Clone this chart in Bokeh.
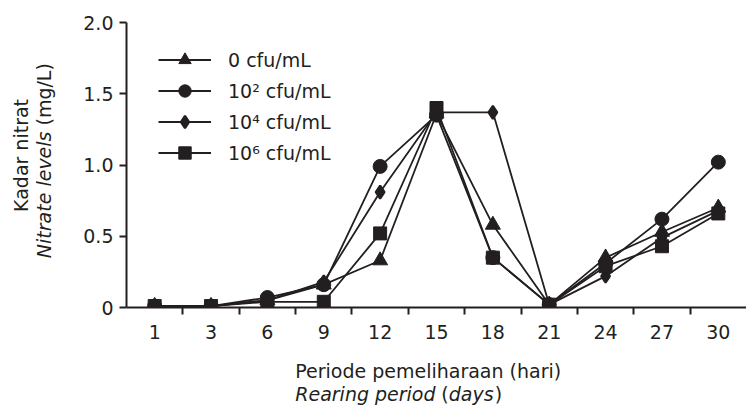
import math
from bokeh.plotting import figure
from bokeh.models import (Range1d, FixedTicker, CustomJSTickFormatter, Label,
                          Legend, LegendItem)
from bokeh.embed import file_html
from bokeh.resources import INLINE

# ---- data ----
days = [1, 3, 6, 9, 12, 15, 18, 21, 24, 27, 30]
series_names = ["0 cfu/mL", "10\u00b2 cfu/mL", "10\u2074 cfu/mL", "10\u2076 cfu/mL"]
nitrate_0 = [0.01, 0.01, 0.05, 0.16, 0.33, 1.36, 0.58, 0.02, 0.35, 0.53, 0.70]
nitrate_2 = [0.01, 0.01, 0.07, 0.16, 0.99, 1.35, 0.35, 0.02, 0.31, 0.62, 1.02]
nitrate_4 = [0.01, 0.01, 0.05, 0.18, 0.81, 1.37, 1.37, 0.02, 0.22, 0.49, 0.68]
nitrate_6 = [0.01, 0.01, 0.04, 0.04, 0.52, 1.40, 0.35, 0.02, 0.29, 0.43, 0.66]
y_ticks = [0, 0.5, 1.0, 1.5, 2.0]
y_tick_labels = ["0", "0.5", "1.0", "1.5", "2.0"]
x_tick_labels = [str(d) for d in days]

INK = "#231f20"
FONT = "DejaVu Sans"
FS = "19px"

idx = list(range(len(days)))

p = figure(width=746, height=409, output_backend="svg", toolbar_location=None,
           x_range=Range1d(-0.5, len(days) - 0.5), y_range=Range1d(0, 2.0),
           min_border_left=125, min_border_right=0, min_border_top=22,
           min_border_bottom=102)
p.outline_line_color = None
p.xgrid.visible = False
p.ygrid.visible = False
p.background_fill_color = "white"
p.border_fill_color = "white"

fmt_code = """
const i = tvals.findIndex(t => Math.abs(t - tick) < 1e-6);
return i >= 0 ? tlabels[i] : "";
"""

# x axis: labels at category centres, ticks between categories
xa = p.xaxis[0]
xa.ticker = FixedTicker(ticks=idx, minor_ticks=[i + 0.5 for i in idx[:-1]])
xa.formatter = CustomJSTickFormatter(args=dict(tvals=idx, tlabels=x_tick_labels), code=fmt_code)
xa.major_tick_out = 0
xa.major_tick_in = 0
xa.minor_tick_out = 7
xa.minor_tick_in = 0
xa.minor_tick_line_width = 2
xa.minor_tick_line_color = INK
xa.axis_line_width = 2
xa.axis_line_color = INK
xa.major_label_standoff = 10
xa.major_label_text_font = FONT
xa.major_label_text_font_size = FS
xa.major_label_text_color = INK

ya = p.yaxis[0]
ya.ticker = FixedTicker(ticks=y_ticks, minor_ticks=[])
ya.formatter = CustomJSTickFormatter(args=dict(tvals=y_ticks, tlabels=y_tick_labels), code=fmt_code)
ya.major_tick_out = 7
ya.major_tick_in = 0
ya.major_tick_line_width = 2
ya.major_tick_line_color = INK
ya.minor_tick_out = 0
ya.minor_tick_in = 0
ya.axis_line_width = 2
ya.axis_line_color = INK
ya.major_label_standoff = 6
ya.major_label_text_font = FONT
ya.major_label_text_font_size = FS
ya.major_label_text_color = INK

markers = [("triangle", 15, 1), ("circle", 14, 1), ("diamond", 13, 2.2), ("square", 13, 1)]
all_series = [nitrate_0, nitrate_2, nitrate_4, nitrate_6]

items = []
for name, vals, (mk, sz, lw) in zip(series_names, all_series, markers):
    lr = p.line(idx, vals, line_color=INK, line_width=1.8)
    sr = p.scatter(idx, vals, marker=mk, size=sz,
                   fill_color=INK, line_color=INK, line_width=lw)
    items.append(LegendItem(label=name, renderers=[lr, sr]))

legend = Legend(items=items, location=(32, 139), padding=0, margin=0, spacing=0,
                glyph_width=53, glyph_height=31, label_height=31,
                label_standoff=17, label_text_font=FONT, label_text_font_size=FS,
                label_text_color=INK, border_line_alpha=0, background_fill_alpha=0)
p.add_layout(legend, "center")

# axis titles (placed in side panels so they are not clipped to the frame)
def lab(text, x, y, side, style="normal", angle=0.0, align="left", baseline="alphabetic"):
    p.add_layout(Label(x=x, y=y, x_units="data", y_units="data", text=text,
                       angle=angle, text_font=FONT, text_font_size=FS,
                       text_font_style=style, text_color=INK,
                       text_align=align, text_baseline=baseline), side)

PX_X = 621 / len(days)   # pixels per x unit
lab("Kadar nitrat", -2.37, 1.067, "left", angle=math.pi / 2, align="center", baseline="middle")
lab("Nitrate levels", -1.96, 1.235, "left", style="italic", angle=math.pi / 2, align="right", baseline="middle")
lab("(mg/L)", -1.96, 1.277, "left", angle=math.pi / 2, align="left", baseline="middle")

x0 = 2.494
y1 = -0.449
y2 = -0.609
lab("Periode pemeliharaan (hari)", x0, y1, "below")
w1 = 140.3 / PX_X
lab("Rearing period", x0, y2, "below", style="italic")
xp = x0 + w1 + 6.0 / PX_X
lab("(", xp, y2, "left")
xd = xp + 7.4 / PX_X
lab("days", xd, y2, "below", style="italic")
lab(")", xd + 46.0 / PX_X, y2, "left")

open("out.html", "w").write(file_html(p, INLINE))
